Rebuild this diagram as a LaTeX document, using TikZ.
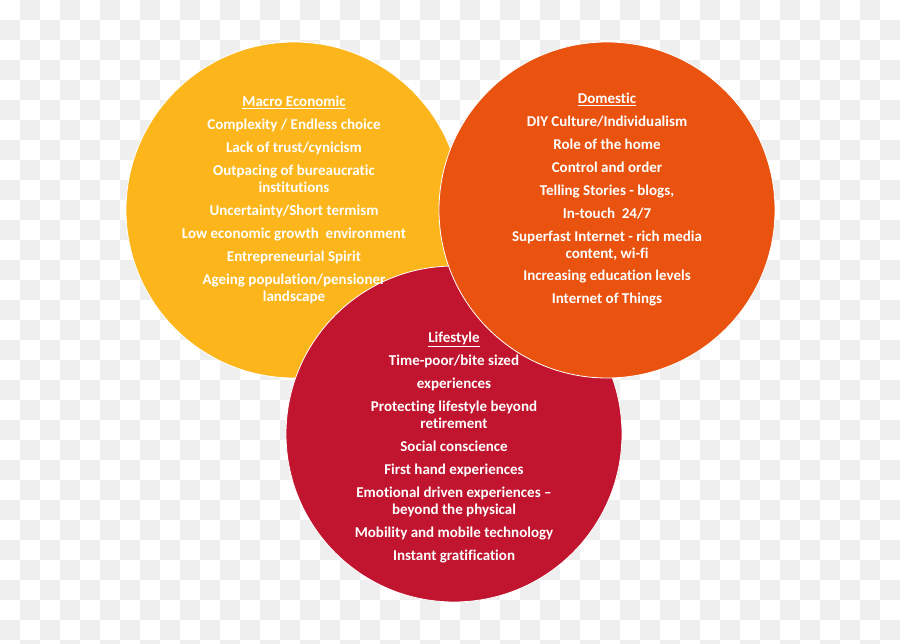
\documentclass[tikz,border=0pt]{standalone}
\usepackage{fontspec}
\setmainfont{Carlito}[Ligatures=NoCommon]
\definecolor{chk}{RGB}{239,239,239}
\definecolor{cyellow}{RGB}{252,182,27}
\definecolor{corange}{RGB}{233,83,15}
\definecolor{cred}{RGB}{193,20,46}
\begin{document}
\begin{tikzpicture}[x=1pt,y=-1pt,
  circ/.style={draw=white,line width=0.8pt},
  txt/.style={text=white,font=\fontsize{15}{17}\selectfont\bfseries,inner sep=0pt,anchor=base}]
\useasboundingbox (0,0) rectangle (900,644);
\clip (0,0) rectangle (900,644);
\fill[white] (0,0) rectangle (900,644);
\foreach \j in {0,...,32}{
  \foreach \i in {0,...,44}{
    \pgfmathtruncatemacro\k{mod(\i+\j,2)}
    \ifnum\k=1 \fill[chk] (\i*20,\j*20) rectangle ++(20,20); \fi
  }
}
% circles
\fill[cyellow,circ] (294,210) circle[radius=168];
\fill[cred,circ] (454,434) circle[radius=168];
\fill[corange,circ] (607,210) circle[radius=168];
\begin{scope}[yshift=-1pt]
% yellow text
\node[txt] (y0) at (294,105.5) {\underline{Macro Economic}};
\node[txt] (y1) at (294,128.5) {Complexity / Endless choice};
\node[txt] (y2) at (294,151.5) {Lack of trust/cynicism};
\node[txt] (y3a) at (294,174.5) {Outpacing of bureaucratic};
\node[txt] (y3b) at (294,191.5) {institutions};
\node[txt] (y4) at (294,214.5) {Uncertainty/Short termism};
\node[txt] (y5) at (294,237.5) {Low economic growth\ \ environment};
\node[txt] (y6) at (294,260.5) {Entrepreneurial Spirit};
\node[txt] (y7a) at (294,283.5) {Ageing population/pensioner};
\node[txt] (y7b) at (294,300.5) {landscape};
% orange text
\node[txt] (o0) at (607,102.5) {\underline{Domestic}};
\node[txt] (o1) at (607,125.5) {DIY Culture/Individualism};
\node[txt] (o2) at (607,148.5) {Role of the home};
\node[txt] (o3) at (607,171.5) {Control and order};
\node[txt] (o4) at (607,194.5) {Telling Stories - blogs,};
\node[txt] (o5) at (607,217.5) {In-touch\ \ 24/7};
\node[txt] (o6a) at (607,240.5) {Superfast Internet - rich media};
\node[txt] (o6b) at (607,257.5) {content, wi-fi};
\node[txt] (o7) at (607,279.5) {Increasing education levels};
\node[txt] (o8) at (607,302.5) {Internet of Things};
% red text
\node[txt] (r0) at (454,341.5) {\underline{Lifestyle}};
\node[txt] (r1) at (454,364.5) {Time-poor/bite sized};
\node[txt] (r2) at (454,387.5) {experiences};
\node[txt] (r3a) at (454,410.5) {Protecting lifestyle beyond};
\node[txt] (r3b) at (454,427.5) {retirement};
\node[txt] (r4) at (454,450.5) {Social conscience};
\node[txt] (r5) at (454,473.5) {First hand experiences};
\node[txt] (r6a) at (454,496.5) {Emotional driven experiences --};
\node[txt] (r6b) at (454,513.5) {beyond the physical};
\node[txt] (r7) at (454,536.5) {Mobility and mobile technology};
\node[txt] (r8) at (454,559.5) {Instant gratification};
\end{scope}
\end{tikzpicture}
\end{document}
